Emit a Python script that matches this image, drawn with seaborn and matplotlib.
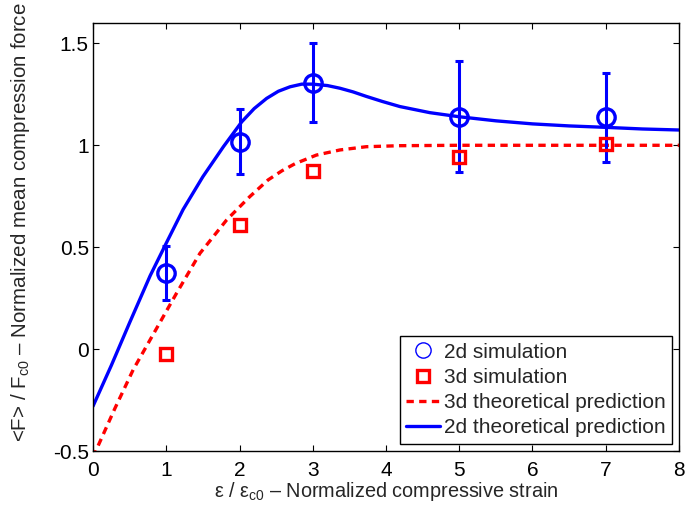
import numpy as np
import pandas as pd
import matplotlib
matplotlib.use("Agg")
import matplotlib.pyplot as plt
import seaborn as sns
from matplotlib.lines import Line2D

# ---- data ----
sim_x = [1, 2, 3, 5, 7]
sim2d_y = [0.372, 1.018, 1.307, 1.14, 1.137]
sim2d_lo = [0.242, 0.86, 1.115, 0.87, 0.917]
sim2d_hi = [0.506, 1.18, 1.50, 1.413, 1.356]
sim3d_y = [-0.023, 0.609, 0.875, 0.944, 1.005]

theo2d_x = [0, 0.25, 0.5, 0.78, 1.0, 1.23, 1.5, 1.78, 2.03, 2.2, 2.37, 2.53, 2.69, 2.85,
            3.0, 3.2, 3.37, 3.55, 3.73, 3.95, 4.19, 4.6, 5.0, 5.5, 6.0, 6.5, 7.0, 7.5, 8.0]
theo2d_y = [-0.28, -0.08, 0.13, 0.36, 0.52, 0.685, 0.846, 0.993, 1.115, 1.18, 1.23, 1.265, 1.287, 1.30,
            1.30, 1.293, 1.28, 1.262, 1.24, 1.215, 1.19, 1.16, 1.14, 1.12, 1.105, 1.095, 1.088, 1.08, 1.075]

theo3d_x = [0.0, 0.3, 0.55, 0.87, 1.14, 1.46, 1.825, 2.14, 2.39, 2.58, 2.76, 3.05, 3.37,
            3.73, 4.19, 5, 6, 7, 8]
theo3d_y = [-0.53, -0.29, -0.10, 0.103, 0.274, 0.47, 0.634, 0.748, 0.83, 0.875, 0.91, 0.952, 0.977,
            0.993, 0.998, 1.0, 1.0, 1.0, 1.0]

x_ticks = [0, 1, 2, 3, 4, 5, 6, 7, 8]
x_ticklabels = ["0", "1", "2", "3", "4", "5", "6", "7", "8"]
y_ticks = [-0.5, 0, 0.5, 1, 1.5]
y_ticklabels = ["-0.5", "0", "0.5", "1", "1.5"]

labels = ["2d simulation", "3d simulation", "3d theoretical prediction", "2d theoretical prediction"]

# ---- style ----
sns.set_style("ticks")
plt.rcParams["font.family"] = ["Liberation Sans", "DejaVu Sans"]
plt.rcParams["mathtext.fontset"] = "custom"
plt.rcParams["mathtext.rm"] = "Liberation Sans"
plt.rcParams["mathtext.it"] = "Liberation Sans"
plt.rcParams["axes.unicode_minus"] = False

BLUE = "#0000ff"
RED = "#ff0000"

fig = plt.figure(figsize=(6.85, 5.11), dpi=100)
ax = fig.add_axes([0.1358, 0.1174, 0.8554, 0.8376])

df2 = pd.DataFrame({"x": theo2d_x, "y": theo2d_y})
df3 = pd.DataFrame({"x": theo3d_x, "y": theo3d_y})
dsim = pd.DataFrame({"x": sim_x, "y2": sim2d_y, "y3": sim3d_y,
                     "lo": sim2d_lo, "hi": sim2d_hi})

yerr = np.vstack([dsim["y2"] - dsim["lo"], dsim["hi"] - dsim["y2"]])
ax.errorbar(dsim["x"], dsim["y2"], yerr=yerr, fmt="none", ecolor=BLUE,
            elinewidth=2.2, capsize=2.6, capthick=2.2, zorder=3)

sns.lineplot(data=df3, x="x", y="y", ax=ax, color=RED, lw=2.4,
             linestyle=(0, (2.2, 1.6)), zorder=2)
sns.lineplot(data=df2, x="x", y="y", ax=ax, color=BLUE, lw=2.4, zorder=2)

ax.plot(dsim["x"], dsim["y2"], linestyle="none", marker="o", ms=12.5,
        mfc="none", mec=BLUE, mew=2.4, zorder=4)
ax.plot(dsim["x"], dsim["y3"], linestyle="none", marker="s", ms=9,
        mfc="none", mec=RED, mew=2.4, zorder=4)

ax.set_xlim(0, 8)
ax.set_ylim(-0.5, 1.6)
ax.set_xticks(x_ticks)
ax.set_xticklabels(x_ticklabels)
ax.set_yticks(y_ticks)
ax.set_yticklabels(y_ticklabels)
ax.tick_params(direction="in", length=4.5, width=0.8, labelsize=15, colors="black",
               top=True, right=True)
ax.tick_params(axis="x", pad=7)
ax.tick_params(axis="y", pad=3)
for s in ax.spines.values():
    s.set_visible(True)
    s.set_linewidth(1.0)
    s.set_color("black")

ax.set_xlabel(r"ε / ε$_{\mathrm{c0}}$ – Normalized compressive strain", fontsize=14.3)
ax.xaxis.set_label_coords(0.5, -0.068)
ax.set_ylabel(r"<F> / F$_{\mathrm{c0}}$ – Normalized mean compression force", fontsize=14.8)
ax.yaxis.set_label_coords(-0.104, 0.535)

handles = [
    Line2D([], [], linestyle="none", marker="o", ms=11, mfc="none", mec=BLUE, mew=1.0),
    Line2D([], [], linestyle="none", marker="s", ms=9, mfc="none", mec=RED, mew=2.4),
    Line2D([], [], color=RED, lw=2.4, linestyle=(0, (2.2, 1.6))),
    Line2D([], [], color=BLUE, lw=2.4),
]
leg = ax.legend(handles, labels, loc="lower right", fontsize=15, frameon=True,
                fancybox=False, edgecolor="black", framealpha=1, borderpad=0.3,
                handlelength=1.6, handletextpad=0.2, labelspacing=0.3,
                borderaxespad=0.35)
leg.get_frame().set_linewidth(1.0)

fig.savefig("out.png", dpi=100)
